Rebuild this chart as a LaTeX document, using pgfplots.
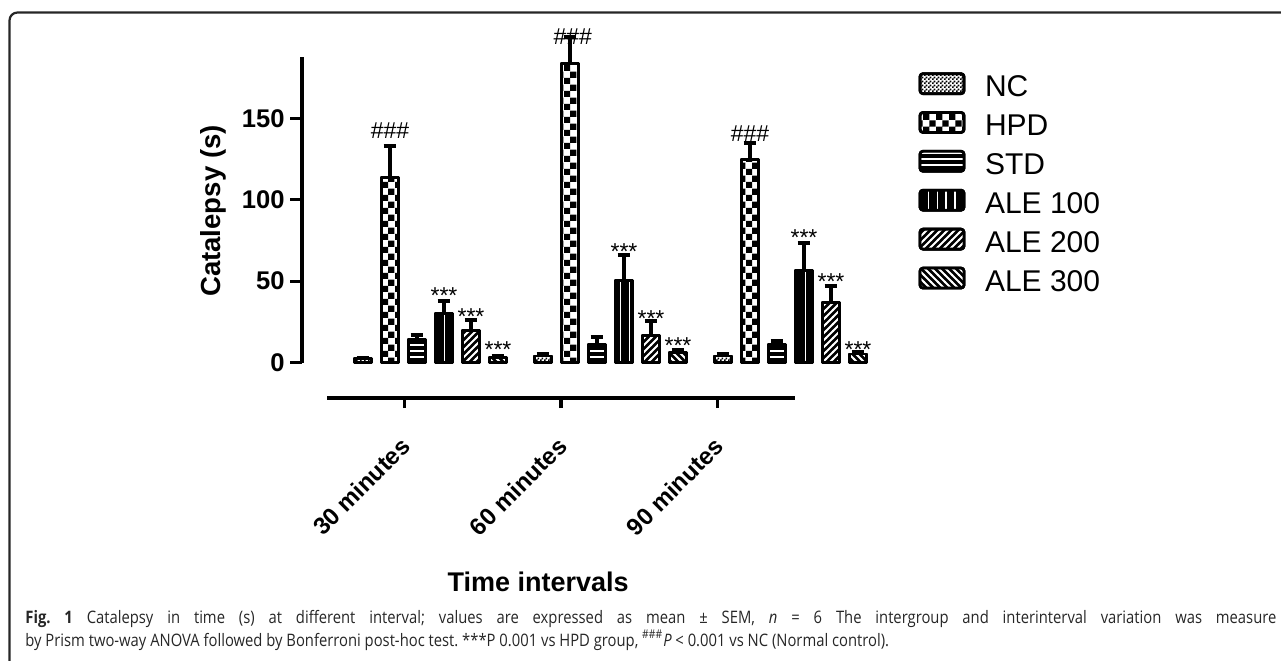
\documentclass[border=0pt]{standalone}
\usepackage{fontspec}
\setmainfont{Liberation Sans}
\newfontfamily\capfont[FakeStretch=0.86]{Open Sans}
\usepackage{pgfplots}
\pgfplotsset{compat=1.18}
\usetikzlibrary{patterns}

\pgfdeclarepatternformonly{finechk}{\pgfqpoint{0pt}{0pt}}{\pgfqpoint{2pt}{2pt}}{\pgfqpoint{2pt}{2pt}}{%
  \pgfpathrectangle{\pgfqpoint{0pt}{0pt}}{\pgfqpoint{1pt}{1pt}}%
  \pgfpathrectangle{\pgfqpoint{1pt}{1pt}}{\pgfqpoint{1pt}{1pt}}%
  \pgfusepath{fill}}
\pgfdeclarepatternformonly{bigchk}{\pgfqpoint{0pt}{0pt}}{\pgfqpoint{6.6pt}{6.6pt}}{\pgfqpoint{6.6pt}{6.6pt}}{%
  \pgfpathrectangle{\pgfqpoint{0pt}{0pt}}{\pgfqpoint{3.3pt}{3.3pt}}%
  \pgfpathrectangle{\pgfqpoint{3.3pt}{3.3pt}}{\pgfqpoint{3.3pt}{3.3pt}}%
  \pgfusepath{fill}}
\pgfdeclarepatternformonly{hlin}{\pgfqpoint{-1pt}{0pt}}{\pgfqpoint{4pt}{3pt}}{\pgfqpoint{3pt}{3pt}}{%
  \pgfsetlinewidth{0.7pt}%
  \pgfpathmoveto{\pgfqpoint{-1pt}{1.5pt}}\pgfpathlineto{\pgfqpoint{4pt}{1.5pt}}\pgfusepath{stroke}}
\pgfdeclarepatternformonly{vlin}{\pgfqpoint{0pt}{-1pt}}{\pgfqpoint{4.4pt}{5.4pt}}{\pgfqpoint{4.4pt}{4.4pt}}{%
  \pgfsetlinewidth{0.7pt}%
  \pgfpathmoveto{\pgfqpoint{2.2pt}{-1pt}}\pgfpathlineto{\pgfqpoint{2.2pt}{5.4pt}}\pgfusepath{stroke}}
\pgfdeclarepatternformonly{nelin}{\pgfqpoint{-1pt}{-1pt}}{\pgfqpoint{4.5pt}{4.5pt}}{\pgfqpoint{3.5pt}{3.5pt}}{%
  \pgfsetlinewidth{0.9pt}%
  \pgfpathmoveto{\pgfqpoint{-0.3pt}{-0.3pt}}\pgfpathlineto{\pgfqpoint{3.8pt}{3.8pt}}\pgfusepath{stroke}}
\pgfdeclarepatternformonly{nwlin}{\pgfqpoint{-1pt}{-1pt}}{\pgfqpoint{4.5pt}{4.5pt}}{\pgfqpoint{3.5pt}{3.5pt}}{%
  \pgfsetlinewidth{0.9pt}%
  \pgfpathmoveto{\pgfqpoint{-0.3pt}{3.8pt}}\pgfpathlineto{\pgfqpoint{3.8pt}{-0.3pt}}\pgfusepath{stroke}}

\tikzset{
  ncbar/.style={draw=black, fill=none, preaction={fill=white}, preaction={pattern=finechk, pattern color=black}},
  hpdbar/.style={draw=black, fill=none, preaction={fill=white}, preaction={pattern=bigchk, pattern color=black}},
  stdbar/.style={draw=black, fill=none, preaction={fill=black}, preaction={pattern=hlin, pattern color=white}},
  a1bar/.style={draw=black, fill=none, preaction={fill=black}, preaction={pattern=vlin, pattern color=white}},
  a2bar/.style={draw=black, fill=none, preaction={fill=black}, preaction={pattern=nelin, pattern color=white}},
  a3bar/.style={draw=black, fill=none, preaction={fill=black}, preaction={pattern=nwlin, pattern color=white}},
}

\begin{document}
\frenchspacing
\begin{tikzpicture}
\useasboundingbox (0,0) rectangle (640.5pt,330pt);
\begin{scope}[x=0.5pt,y=-0.5pt,yshift=330pt]
  \draw[line width=1.1pt, black!85, rounded corners=4pt] (9.5,720) -- (9.5,12.5) -- (1320,12.5);
  \node[anchor=base west, inner sep=0pt, text=black!85, font=\capfont\fontsize{8.6}{9.5}\selectfont] at (25,623)
    {\makebox[625.5pt][s]{\textbf{Fig. 1} Catalepsy in time (s) at different interval; values are expressed as mean ± SEM, \textit{n} = 6 The intergroup and interinterval variation was measure}};
  \node[anchor=base west, inner sep=0pt, text=black!85, font=\capfont\fontsize{8.6}{9.5}\selectfont] at (25,646)
    {by Prism two-way ANOVA followed by Bonferroni post-hoc test. ***P 0.001 vs HPD group, \textsuperscript{\#\#\#}\textit{P} < 0.001 vs NC (Normal control).};
\end{scope}

% bars axis
\begin{axis}[
  at={(151pt,148.75pt)}, anchor=south west,
  scale only axis, width=284pt, height=152.75pt,
  xmin=-0.71389, xmax=2.44167, ymin=0, ymax=187.7,
  axis y line*=left, axis x line=none,
  clip=false,
  ybar, bar width=8.6pt,
  ytick={0,50,100,150},
  tick align=outside, major tick length=6pt,
  axis line style={line width=1.6pt, black},
  ytick style={line width=1.6pt, black},
  /pgf/number format/assume math mode=true,
  yticklabel style={font=\bfseries\fontsize{12.8}{15}\selectfont, inner sep=0pt, xshift=-2.5pt},
  ylabel={Catalepsy (s)},
  ylabel style={font=\bfseries\fontsize{13.8}{16}\selectfont, at={(axis description cs:-0.1567,0.496)}, anchor=center},
  every axis plot/.append style={line width=1.4pt, line join=round},
  error bars/y dir=plus, error bars/y explicit,
  error bars/error bar style={line width=1.6pt, black},
  error bars/error mark options={rotate=90, mark size=3.2pt, line width=2pt, black},
  legend style={at={(axis description cs:1.0863,0.9519)}, anchor=north west, draw=none, fill=none,
    inner sep=0pt, outer sep=0pt, row sep=3.5pt, column sep=8pt,
    font=\fontsize{15}{17}\selectfont},
  legend cell align=left,
  legend image code/.code={\draw[#1, line width=1pt, rounded corners=1.5pt] (0pt,-3pt) rectangle (22pt,7pt);},
]
\addplot[ncbar, bar shift=-33.75pt] coordinates {(0,2.3) +- (0,0.6) (1,4.0) +- (0,1.5) (2,4.0) +- (0,1.0)};
\addplot[hpdbar, bar shift=-20.25pt] coordinates {(0,113.9) +- (0,19) (1,183.9) +- (0,16) (2,124.8) +- (0,9.8)};
\addplot[stdbar, bar shift=-6.75pt] coordinates {(0,14.0) +- (0,2.6) (1,10.9) +- (0,4.5) (2,11.0) +- (0,2.0)};
\addplot[a1bar, bar shift=6.75pt] coordinates {(0,30.0) +- (0,7.8) (1,50.2) +- (0,16) (2,56.4) +- (0,17)};
\addplot[a2bar, bar shift=20.25pt] coordinates {(0,19.7) +- (0,6.7) (1,16.6) +- (0,9) (2,36.9) +- (0,10.3)};
\addplot[a3bar, bar shift=33.75pt] coordinates {(0,3.1) +- (0,0.8) (1,6.0) +- (0,1.5) (2,5.2) +- (0,1.5)};
\legend{NC,HPD,STD,ALE 100,ALE 200,ALE 300}
\begin{scope}[every node/.style={font=\fontsize{11.5}{13}\selectfont, inner sep=0pt, anchor=base}]
\node at (axis cs:-0.225,137.9) {\#\#\#};
\node at (axis cs:0.075,36.5) {***};
\node at (axis cs:0.225,23.2) {***};
\node at (axis cs:0.375,2.8) {***};
\node at (axis cs:0.79,195.2) {\#\#\#};
\node at (axis cs:1.075,63.1) {***};
\node at (axis cs:1.225,22.2) {***};
\node at (axis cs:1.375,5.4) {***};
\node at (axis cs:1.775,135.9) {\#\#\#};
\node at (axis cs:2.075,71.7) {***};
\node at (axis cs:2.225,44.7) {***};
\node at (axis cs:2.375,2.8) {***};
\end{scope}
\end{axis}

% separate x axis
\begin{axis}[
  at={(163.5pt,131pt)}, anchor=south west,
  scale only axis, width=234pt, height=10pt,
  xmin=-0.493, xmax=2.492, ymin=0, ymax=1,
  axis x line*=bottom, axis y line=none,
  xtick={0,1,2}, xticklabels={30 minutes,60 minutes,90 minutes},
  tick align=outside, major tick length=5pt,
  axis line style={line width=1.6pt, black},
  xtick style={line width=1.6pt, black},
  xticklabel style={yshift=-17pt, xshift=0.8pt, rotate=45, anchor=east, font=\bfseries\fontsize{12}{14}\selectfont, inner sep=0pt},
  xlabel={Time intervals},
  xlabel style={at={(axis description cs:0.451,-9.2)}, anchor=center, font=\bfseries\fontsize{13.5}{16}\selectfont},
]
\end{axis}
\end{tikzpicture}
\end{document}
